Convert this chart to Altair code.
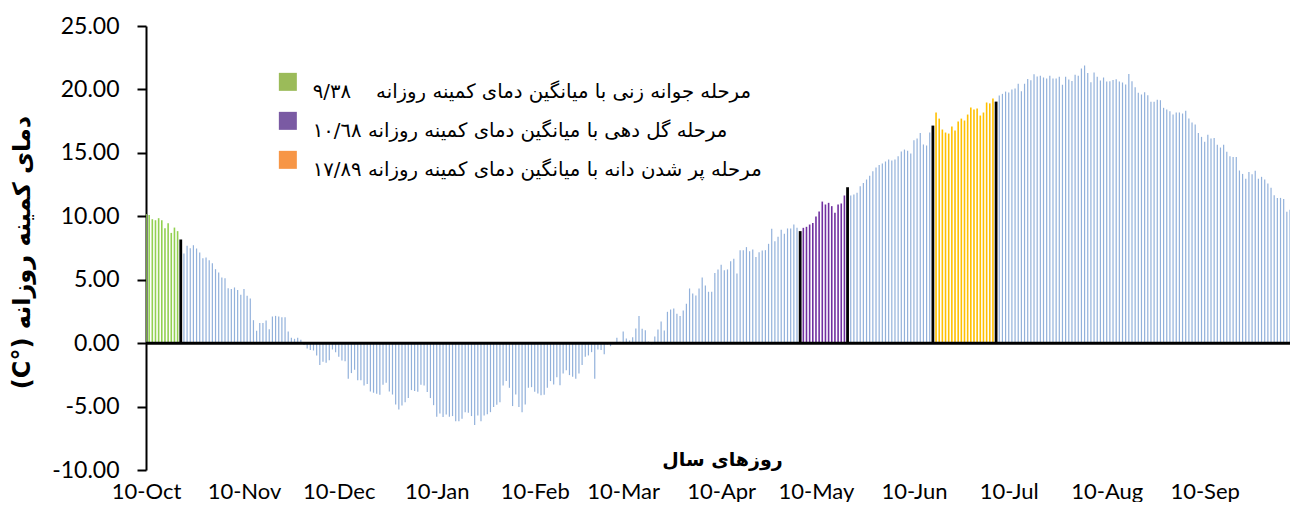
import altair as alt
import pandas as pd

# ---- x-axis ticks (day offset from 10-Oct) ----
tick_days = [0, 31, 61, 92, 123, 151, 182, 212, 243, 273, 304, 335]
tick_labels = ["10-Oct", "10-Nov", "10-Dec", "10-Jan", "10-Feb", "10-Mar",
               "10-Apr", "10-May", "10-Jun", "10-Jul", "10-Aug", "10-Sep"]

# ---- daily minimum temperature (°C) ----
tmin_oct = [10.19, 10.11, 9.77, 9.69, 9.85, 9.69, 9.06, 9.46, 8.69, 9.11, 8.83, 8.17]
tmin_oct_nov = [7.07, 7.67, 7.49, 7.72, 7.46, 7.14, 6.70, 6.75, 6.54, 6.30,
                5.83, 5.57, 5.17, 5.12, 4.33, 4.26, 4.39, 4.18, 3.81, 4.26,
                3.73, 3.52, 1.81, 0.97, 1.58, 1.58, 1.79, 1.10, 2.10, 2.15,
                2.10, 2.05, 2.05, 0.92, 0.42, 0.34, 0.42, 0.26]
tmin_winter = [-0.15, -0.42, -0.55, -0.58, -0.97, -1.73, -1.47, -1.55, -1.34, -0.50,
               -0.71, -1.08, -1.37, -1.42, -2.81, -2.36, -2.10, -2.92, -2.92, -3.34,
               -3.23, -3.81, -3.91, -3.99, -4.07, -3.28, -3.13, -3.81, -4.05, -4.83,
               -5.23, -4.91, -4.65, -4.33, -3.70, -3.78, -3.83, -3.28, -3.34, -3.86,
               -4.33, -4.89, -5.80, -5.54, -5.83, -5.62, -5.80, -5.75, -6.15, -6.15,
               -5.96, -5.44, -5.49, -5.75, -6.46, -5.70, -6.15, -5.70, -5.60, -5.44,
               -5.04, -4.86, -4.65, -3.34, -2.99, -3.52, -4.96, -4.05, -5.04, -5.44,
               -4.83, -3.52, -3.47, -3.83, -3.97, -4.10, -4.07, -3.52, -2.99, -3.26,
               -2.68, -3.31, -2.39, -2.13, -2.52, -2.65, -2.81, -2.39, -1.73, -1.08,
               -0.97, -0.71, -2.81, -0.50, -0.55, -0.87, -0.10, -0.24, -0.05, 0.42]
tmin_spring = [0.10, 0.92, 0.37, 0.21, 0.47, 1.16, 2.13, 1.13, 1.02, 0.13,
               -0.10, 0.53, 1.08, 1.71, 1.00, 2.47, 2.65, 2.73, 2.31, 2.13,
               2.57, 3.10, 4.31, 3.91, 3.76, 4.31, 5.17, 4.54, 4.05, 4.05,
               5.52, 5.81, 6.17, 5.75, 5.81, 6.46, 6.65, 5.49, 7.33, 7.33,
               7.57, 7.25, 7.38, 6.80, 7.17, 7.30, 7.33, 7.83, 9.01, 8.04,
               8.38, 8.93, 8.62, 9.04, 9.04, 9.35, 9.09]
tmin_may = [8.83, 9.09, 9.17, 9.35, 9.48, 9.98, 10.38, 11.16, 10.93, 11.06,
            10.80, 10.27, 10.93, 11.01, 11.64, 12.29]
tmin_may_jun = [11.64, 11.72, 11.85, 12.37, 12.63, 12.90, 13.20, 13.55, 13.85, 14.05,
                14.16, 14.32, 14.47, 14.39, 14.47, 14.74, 15.10, 15.26, 15.16, 14.95,
                16.00, 16.13, 16.57, 15.66, 15.58, 16.60]
tmin_jun_jul = [17.15, 18.18, 17.70, 16.84, 16.60, 16.52, 17.07, 16.76, 17.47, 17.70,
                17.55, 18.02, 18.57, 18.41, 18.49, 17.94, 18.18, 18.97, 18.90, 19.28,
                19.04]
tmin_summer = [19.52, 19.65, 19.83, 19.75, 19.99, 20.07, 20.44, 19.86, 20.44, 20.83,
               20.72, 21.20, 21.01, 21.07, 20.94, 20.86, 21.07, 20.86, 20.86, 20.99,
               20.36, 20.99, 20.78, 20.67, 21.15, 21.07, 21.64, 21.88, 21.30, 20.57,
               21.33, 20.99, 20.70, 20.94, 20.62, 20.65, 20.75, 20.80, 20.62, 20.54,
               20.38, 21.22, 20.65, 20.17, 19.73, 19.60, 19.78, 19.54, 19.02, 19.02,
               19.18, 19.15, 18.55, 18.41, 18.28, 18.02, 18.18, 18.18, 18.10, 18.31,
               17.70, 17.39, 17.23, 16.57, 16.26, 15.87, 16.42, 16.13, 16.18, 15.63,
               15.42, 15.63, 15.08, 14.74, 14.68, 14.68, 13.61, 13.34, 12.95, 13.50,
               13.32, 13.58, 12.95, 13.11, 12.90, 12.58, 12.24, 11.66, 11.45, 11.45,
               11.37, 10.35, 10.51, 10.43, 10.80]

tmin = (tmin_oct + tmin_oct_nov + tmin_winter + tmin_spring + tmin_may
        + tmin_may_jun + tmin_jun_jul + tmin_summer)
days = list(range(len(tmin)))

# ---- growth stages (day offsets) ----
green_days = list(range(0, 11))
purple_days = list(range(208, 222))
yellow_days = list(range(250, 269))
boundary_days = [11, 207, 222, 249, 269]


def stage_of(d):
    if d in boundary_days:
        return "boundary"
    if d in green_days:
        return "emergence"
    if d in purple_days:
        return "flowering"
    if d in yellow_days:
        return "grainfill"
    return "other"


df = pd.DataFrame({"day": days, "tmin": tmin, "stage": [stage_of(d) for d in days]})

NB = "\u00a0"
legend_labels = [
    "مرحله جوانه زنی با میانگین دمای کمینه روزانه" + NB * 4 + "٩/٣٨",
    "مرحله گل دهی با میانگین دمای کمینه روزانه ١٠/٦٨",
    "مرحله پر شدن دانه با میانگین دمای کمینه روزانه ١٧/٨٩",
]
legend_colors = ["#9BBB59", "#7A5AA3", "#F79646"]
leg_df = pd.DataFrame({"label": legend_labels})

label_expr = ("[" + ",".join("'%s'" % t for t in tick_labels) + "][indexof(["
              + ",".join(str(d) for d in tick_days) + "], datum.value)]")

x_enc = alt.X(
    "day:Q",
    scale=alt.Scale(domain=[0, 362], nice=False, zero=False, padding=0),
    axis=alt.Axis(
        values=tick_days, labelExpr=label_expr, domain=False, ticks=False, grid=False,
        labelFont="Lato", labelFontSize=22, labelColor="black", labelPadding=11,
        labelFlush=False, labelOverlap=False, labelBound=False,
        title="روزهای سال", titleFont="DejaVu Sans", titleFontSize=19,
        titleFontWeight="bold", titleColor="black", titleX=576, titleY=-11,
        titleBaseline="middle",
    ),
)
y_enc = alt.Y(
    "tmin:Q",
    scale=alt.Scale(domain=[-10, 25], nice=False),
    axis=alt.Axis(
        values=list(range(-10, 26, 5)),
        labelExpr="(datum.value < 0 ? '-' : '') + format(abs(datum.value), '.2f')",
        grid=False,
        domainColor="black", domainWidth=2, tickColor="black", tickWidth=2, tickSize=9,
        labelFont="Lato", labelFontSize=23, labelColor="black", labelPadding=18,
        title="\u202bدمای کمینه روزانه (°C)\u202c", titleFont="DejaVu Sans",
        titleFontSize=24, titleFontWeight="bold", titleColor="black",
        titleX=-124, titleY=226, titleAngle=270, titleBaseline="middle",
        titleAlign="center",
    ),
)

base = alt.Chart(df)
blue = base.transform_filter(alt.datum.stage == "other").mark_bar(
    color="#92B1DB", size=1.2, clip=True).encode(x=x_enc, y=y_enc)
green = base.transform_filter(alt.datum.stage == "emergence").mark_bar(
    color="#92D050", size=1.6, clip=True).encode(x=x_enc, y=y_enc)
purple = base.transform_filter(alt.datum.stage == "flowering").mark_bar(
    color="#7030A0", size=1.6, clip=True).encode(x=x_enc, y=y_enc)
yellow = base.transform_filter(alt.datum.stage == "grainfill").mark_bar(
    color="#FFC000", size=1.6, clip=True).encode(x=x_enc, y=y_enc)
black = base.transform_filter(alt.datum.stage == "boundary").mark_bar(
    color="black", size=2.8, clip=True).encode(x=x_enc, y=y_enc)

zero_line = alt.Chart(pd.DataFrame({"z": [0]})).mark_rule(
    color="black", strokeWidth=3).encode(y=alt.datum(0))

legend_layer = alt.Chart(leg_df).mark_square(opacity=0).encode(
    x=alt.datum(0), y=alt.datum(0),
    color=alt.Color(
        "label:N", sort=legend_labels,
        scale=alt.Scale(domain=legend_labels, range=legend_colors),
        legend=alt.Legend(
            orient="none", legendX=132, legendY=46, title=None, direction="vertical",
            symbolType="square", symbolSize=324, symbolOpacity=1, symbolStrokeWidth=0,
            labelFont="DejaVu Sans", labelFontSize=19.7, labelColor="black",
            labelLimit=800, labelOffset=15, labelBaseline="top", rowPadding=9,
        ),
    ),
)

chart = alt.layer(blue, green, purple, yellow, black, zero_line, legend_layer).properties(
    width=1144, height=444,
    padding={"left": 138, "top": 18, "right": 0, "bottom": 32},
    autosize=alt.AutoSizeParams(type="none"),
    background="white",
).configure_view(stroke=None)

chart.save("out.html", embed_options={"renderer": "svg", "actions": False})
